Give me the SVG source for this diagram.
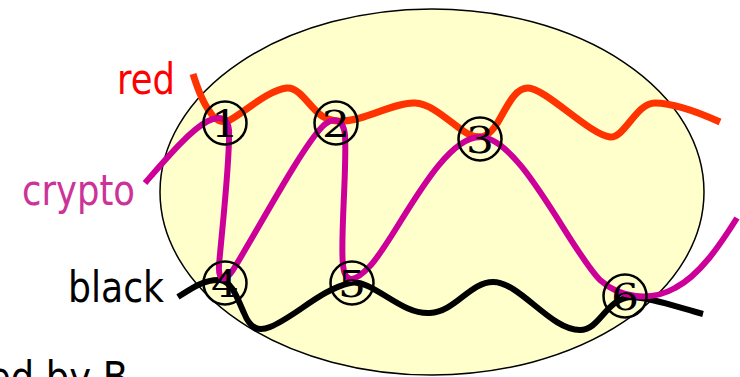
<svg xmlns="http://www.w3.org/2000/svg" width="740" height="377" viewBox="0 0 740 377">
<style>
.lbl{font-family:"DejaVu Sans","Liberation Sans",sans-serif;font-size:42px;}
.wire{fill:none;stroke-linecap:butt;stroke-linejoin:round;}
.ring{fill:none;stroke:#000;stroke-width:2.5;}
.dig{font-family:"DejaVu Serif","Liberation Serif",serif;font-size:38px;fill:#000;text-anchor:middle;}
</style>
<rect width="740" height="377" fill="#fff"/>
<g id="domain">
<ellipse cx="432" cy="192" rx="272" ry="183" fill="#ffffcc" stroke="#000" stroke-width="1.5"/>
</g>
<g id="labels">
<text class="lbl" x="117" y="94" fill="#ff0000" textLength="58" lengthAdjust="spacingAndGlyphs">red</text>
<text class="lbl" x="22" y="205" fill="#cc3399" textLength="113" lengthAdjust="spacingAndGlyphs">crypto</text>
<text class="lbl" x="68" y="302" fill="#000" textLength="96" lengthAdjust="spacingAndGlyphs">black</text>
<text class="lbl" x="-12" y="392" fill="#000" textLength="140" lengthAdjust="spacingAndGlyphs">ed by B</text>
</g>
<g id="connectors">
<path id="red-line" class="wire" stroke="#ff3300" stroke-width="7" d="M193,74 C198,90 203,103 210,112 C215,120 222,124 230,120 C245,112 268,90 287,88 C300,87 310,108 322,116 C333,123 345,122 360,118 C378,113 400,102 415,103 C435,104 455,128 470,135 C483,140 490,135 498,122 C508,105 515,88 528,88 C545,88 590,135 610,137 C625,138 636,103 655,103 C675,103 700,113 720,122"/>
<path id="black-line" class="wire" stroke="#000" stroke-width="6" d="M178,297 C192,288 205,279 220,280 C232,281 238,300 244,313 C250,328 258,332 270,327 C295,317 320,290 350,283 C372,278 400,315 430,313 C455,312 470,282 493,282 C520,282 550,330 580,330 C600,330 605,300 630,297 C650,297 680,308 703,314"/>
<path id="crypto-line" class="wire" stroke="#cc0099" stroke-width="6" d="M145,183 C165,160 190,130 208,121 C220,115 228,118 229,130 C230,160 222,230 219,265 C218,282 225,282 233,270 C255,235 300,150 322,127 C332,117 343,117 345,135 C347,170 340,240 343,265 C345,285 355,282 370,266 C395,240 440,137 480,137 C520,137 570,250 600,280 C620,298 650,302 675,288 C700,275 720,245 737,218"/>
</g>
<g id="n1"><circle class="ring" cx="225" cy="123" r="21.5"/><text class="dig" x="225" y="137" textLength="28" lengthAdjust="spacingAndGlyphs">1</text></g>
<g id="n2"><circle class="ring" cx="336" cy="123" r="21.5"/><text class="dig" x="336" y="137" textLength="28" lengthAdjust="spacingAndGlyphs">2</text></g>
<g id="n3"><circle class="ring" cx="480" cy="139" r="21.5"/><text class="dig" x="480" y="153" textLength="28" lengthAdjust="spacingAndGlyphs">3</text></g>
<g id="n4"><circle class="ring" cx="225" cy="283" r="21.5"/><text class="dig" x="225" y="297" textLength="28" lengthAdjust="spacingAndGlyphs">4</text></g>
<g id="n5"><circle class="ring" cx="352" cy="283" r="21.5"/><text class="dig" x="352" y="297" textLength="28" lengthAdjust="spacingAndGlyphs">5</text></g>
<g id="n6"><circle class="ring" cx="625" cy="296" r="21.5"/><text class="dig" x="625" y="310" textLength="28" lengthAdjust="spacingAndGlyphs">6</text></g>
</svg>
